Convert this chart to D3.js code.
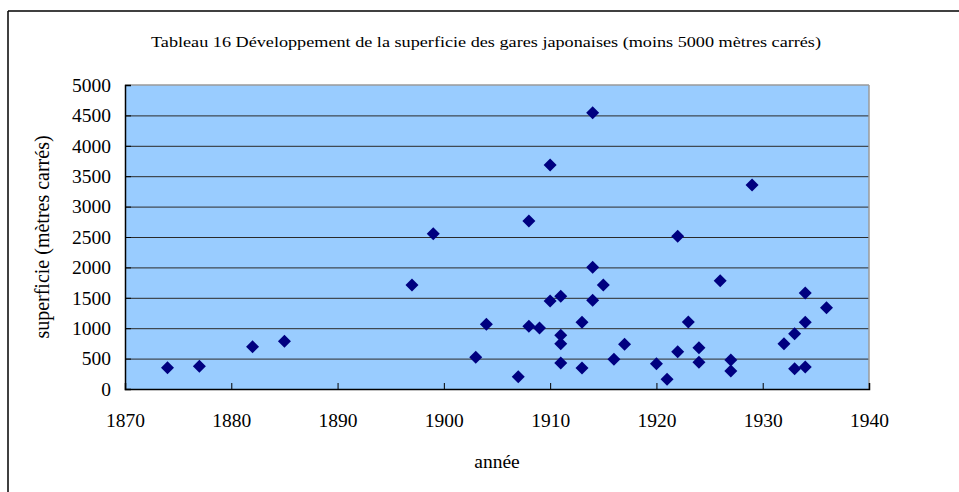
<!DOCTYPE html>
<html>
<head>
<meta charset="utf-8">
<script src="https://cdn.jsdelivr.net/npm/d3@7"></script>
<style>
  html, body { margin: 0; padding: 0; background: #fff; }
  svg { display: block; }
  text { font-family: "Liberation Serif", "Times New Roman", serif; fill: #000; }
</style>
</head>
<body>
<svg id="chart" width="959" height="492"></svg>
<script>
// Station floor area (m²) by year of construction
const years = [1874, 1877, 1882, 1885, 1897, 1899, 1903, 1904, 1907, 1908, 1908, 1909,
               1910, 1910, 1911, 1911, 1911, 1911, 1913, 1913, 1914, 1914, 1914, 1915,
               1916, 1917, 1920, 1921, 1922, 1922, 1923, 1924, 1924, 1926, 1927, 1927,
               1929, 1932, 1933, 1933, 1934, 1934, 1934, 1936];
const areas = [350, 373, 696, 784, 1711, 2555, 521, 1064, 202, 2763, 1031, 1003,
               3684, 1447, 1524, 883, 745, 428, 1097, 345, 4544, 2001, 1458, 1711,
               488, 735, 416, 159, 2511, 614, 1102, 680, 438, 1782, 477, 296,
               3355, 745, 910, 334, 1579, 1097, 362, 1337];
const xTicks = [1870, 1880, 1890, 1900, 1910, 1920, 1930, 1940];
const yTicks = [0, 500, 1000, 1500, 2000, 2500, 3000, 3500, 4000, 4500, 5000];

const titleText = "Tableau 16 Développement de la superficie des gares japonaises (moins 5000 mètres carrés)";
const xTitle = "année";
const yTitle = "superficie (mètres carrés)";

const svg = d3.select("#chart");
const plot = { left: 125, top: 85, right: 869, bottom: 389 };

const x = d3.scaleLinear().domain([1870, 1940]).range([plot.left, plot.right]);
const y = d3.scaleLinear().domain([0, 5000]).range([plot.bottom, plot.top]);

// outer frame (top and left edges)
svg.append("line").attr("x1", 8).attr("y1", 11).attr("x2", 959).attr("y2", 11)
  .attr("stroke", "#000").attr("stroke-width", 1.5);
svg.append("line").attr("x1", 8).attr("y1", 11).attr("x2", 8).attr("y2", 492)
  .attr("stroke", "#000").attr("stroke-width", 1.5);

// title, set slightly wide
svg.append("text")
  .attr("x", 151).attr("y", 47)
  .attr("textLength", 670)
  .attr("lengthAdjust", "spacingAndGlyphs")
  .style("font-size", "14.5px")
  .text(titleText);

// plot background
svg.append("rect")
  .attr("x", plot.left).attr("y", plot.top)
  .attr("width", plot.right - plot.left).attr("height", plot.bottom - plot.top)
  .attr("fill", "#99CCFF");

// horizontal gridlines
svg.append("g")
  .attr("transform", `translate(${plot.left},0)`)
  .call(d3.axisLeft(y).tickValues(yTicks.filter(v => v > 0 && v < 5000))
    .tickSize(-(plot.right - plot.left)).tickFormat(""))
  .call(g => g.select(".domain").remove())
  .call(g => g.selectAll(".tick line").attr("stroke", "#2a2a2a").attr("stroke-width", 1));

// gray top and right borders of the plot area
svg.append("line").attr("x1", plot.left).attr("y1", plot.top).attr("x2", plot.right).attr("y2", plot.top)
  .attr("stroke", "#9a9a9a").attr("stroke-width", 1.5);
svg.append("line").attr("x1", plot.right).attr("y1", plot.top).attr("x2", plot.right).attr("y2", plot.bottom)
  .attr("stroke", "#9a9a9a").attr("stroke-width", 1.5);

// y axis: ticks point inward, labels to the left
const yAxis = svg.append("g")
  .attr("transform", `translate(${plot.left},0)`)
  .call(d3.axisLeft(y).tickValues(yTicks).tickSize(-6).tickPadding(14).tickFormat(d3.format("d")));
yAxis.select(".domain").attr("stroke", "#000").attr("stroke-width", 1.5);
yAxis.selectAll(".tick line").attr("stroke", "#000");
yAxis.selectAll(".tick text")
  .style("font-family", '"Liberation Serif", "Times New Roman", serif')
  .style("font-size", "19.5px").attr("fill", "#000");

// x axis: ticks point inward, labels below
const xAxis = svg.append("g")
  .attr("transform", `translate(0,${plot.bottom})`)
  .call(d3.axisBottom(x).tickValues(xTicks).tickSize(-6).tickPadding(24).tickFormat(d3.format("d")));
xAxis.select(".domain").attr("stroke", "#000").attr("stroke-width", 1.5);
xAxis.selectAll(".tick line").attr("stroke", "#000");
xAxis.selectAll(".tick text")
  .style("font-family", '"Liberation Serif", "Times New Roman", serif')
  .style("font-size", "19.5px").attr("fill", "#000");

// axis titles
svg.append("text")
  .attr("x", 497).attr("y", 468)
  .attr("text-anchor", "middle")
  .style("font-size", "19.5px")
  .text(xTitle);

svg.append("text")
  .attr("transform", "translate(49,237) rotate(-90)")
  .attr("text-anchor", "middle")
  .style("font-size", "20px")
  .text(yTitle);

// diamond markers
const diamond = "M0,-6.5L6.5,0L0,6.5L-6.5,0Z";
svg.append("g")
  .selectAll("path")
  .data(years.map((yr, i) => ({ year: yr, area: areas[i] })))
  .join("path")
  .attr("d", diamond)
  .attr("transform", d => `translate(${x(d.year)},${y(d.area)})`)
  .attr("fill", "#000080");
</script>
</body>
</html>
